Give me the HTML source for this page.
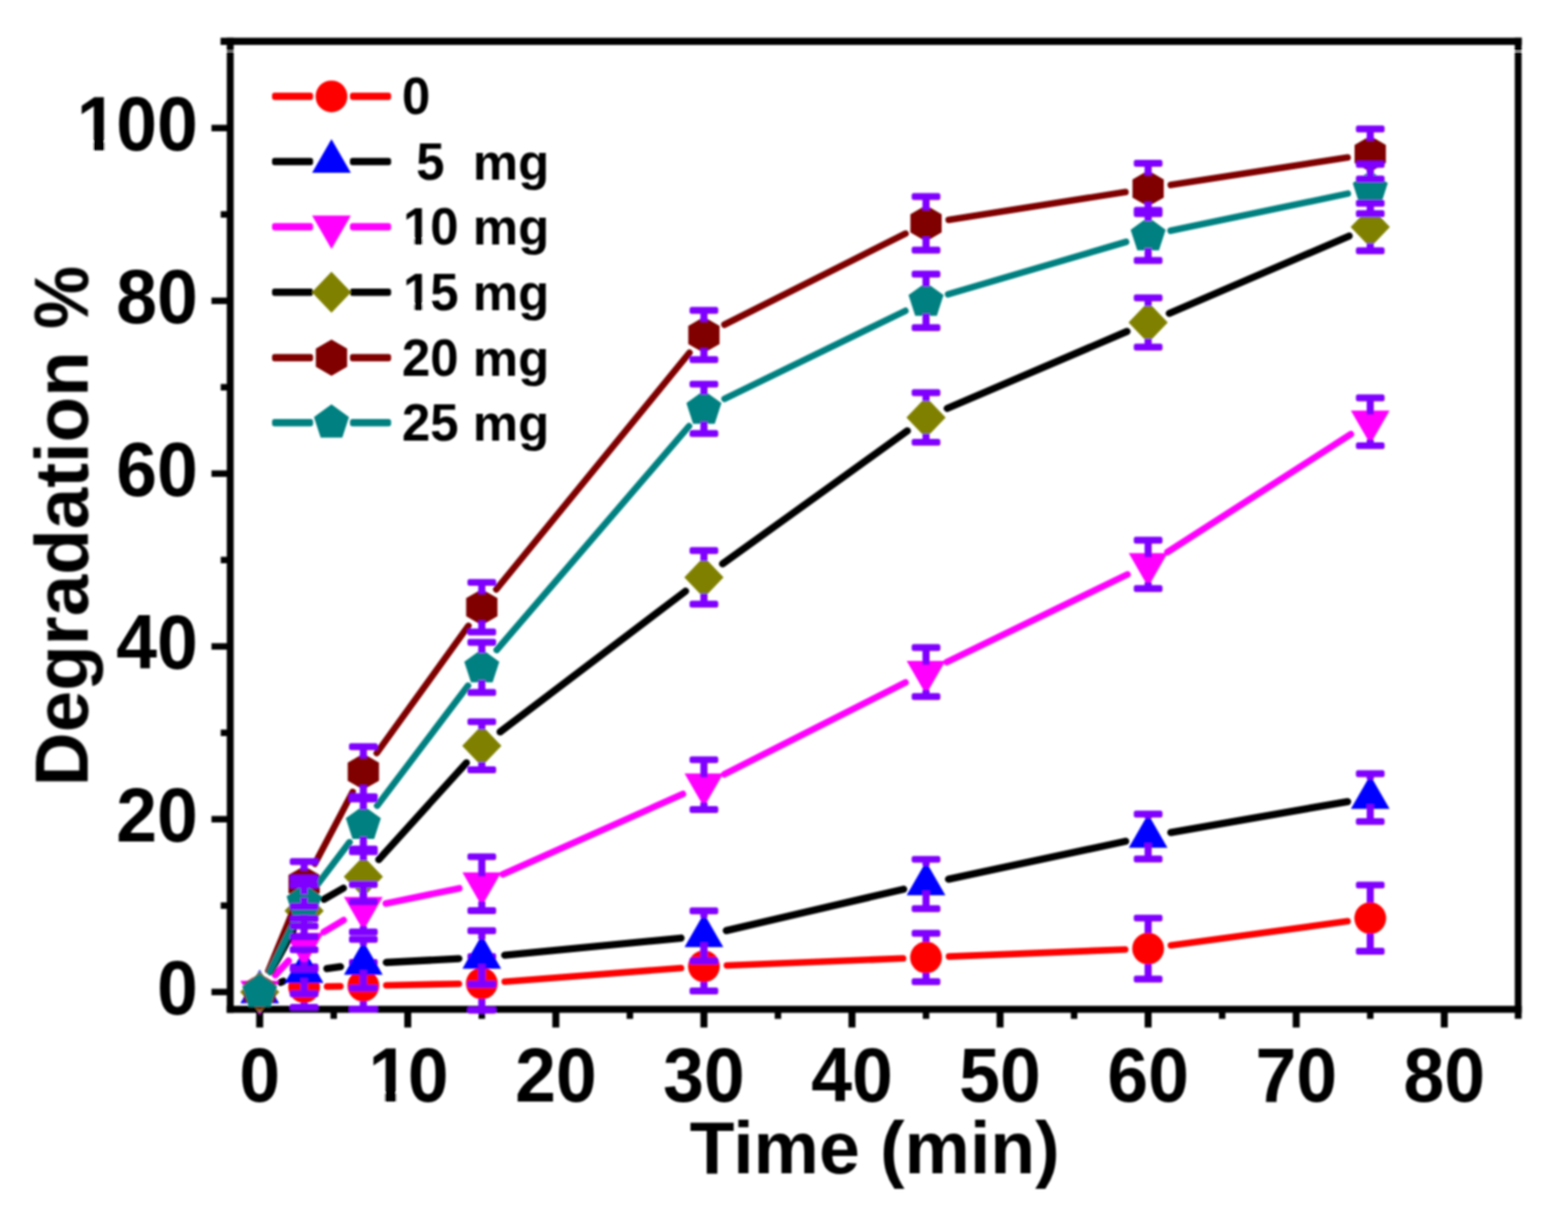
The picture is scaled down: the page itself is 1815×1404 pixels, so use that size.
<!DOCTYPE html>
<html lang="en">
<head>
<meta charset="utf-8">
<title>Degradation % vs Time (min)</title>
<style>
  html, body { margin: 0; padding: 0; background: #ffffff; }
  body { width: 1815px; height: 1404px; overflow: hidden; }
  svg { display: block; }
  text { font-kerning: normal; }
</style>
</head>
<body>
<svg width="1815" height="1404" viewBox="0 0 1815 1404">
<defs><filter id="soft" filterUnits="userSpaceOnUse" x="0" y="0" width="1815" height="1404"><feGaussianBlur stdDeviation="0.8"/></filter></defs>
<rect width="1815" height="1404" fill="#ffffff"/>
<g filter="url(#soft)">
<g id="axes" fill="#000">
<rect x="255.3" y="43.7" width="1506.1" height="8.3"/>
<rect x="262.5" y="1164.2" width="1498.9" height="8.1"/>
<rect x="262.5" y="43.7" width="8" height="1128.6"/>
<rect x="1753.4" y="43.7" width="7.9" height="1135.5"/>
<rect x="261.5" y="58.7" width="10" height="0.9" fill="#fff"/><rect x="1752.5" y="58.9" width="10" height="0.9" fill="#fff"/>
<rect x="244.8" y="1144.45" width="21.7" height="7.5"/>
<rect x="255.5" y="1044.45" width="11" height="7.5"/>
<rect x="244.8" y="944.45" width="21.7" height="7.5"/>
<rect x="255.5" y="844.45" width="11" height="7.5"/>
<rect x="244.8" y="744.45" width="21.7" height="7.5"/>
<rect x="255.5" y="644.45" width="11" height="7.5"/>
<rect x="244.8" y="544.45" width="21.7" height="7.5"/>
<rect x="255.5" y="444.45" width="11" height="7.5"/>
<rect x="244.8" y="344.45" width="21.7" height="7.5"/>
<rect x="255.5" y="244.45" width="11" height="7.5"/>
<rect x="244.8" y="144.45" width="21.7" height="7.5"/>
<rect x="296.55" y="1168.2" width="8.1" height="21.1"/>
<rect x="382.55" y="1168.2" width="7.5" height="11.1"/>
<rect x="467.95" y="1168.2" width="8.1" height="21.1"/>
<rect x="553.95" y="1168.2" width="7.5" height="11.1"/>
<rect x="639.35" y="1168.2" width="8.1" height="21.1"/>
<rect x="725.35" y="1168.2" width="7.5" height="11.1"/>
<rect x="810.75" y="1168.2" width="8.1" height="21.1"/>
<rect x="896.75" y="1168.2" width="7.5" height="11.1"/>
<rect x="982.15" y="1168.2" width="8.1" height="21.1"/>
<rect x="1068.15" y="1168.2" width="7.5" height="11.1"/>
<rect x="1153.55" y="1168.2" width="8.1" height="21.1"/>
<rect x="1239.55" y="1168.2" width="7.5" height="11.1"/>
<rect x="1324.95" y="1168.2" width="8.1" height="21.1"/>
<rect x="1410.95" y="1168.2" width="7.5" height="11.1"/>
<rect x="1496.35" y="1168.2" width="8.1" height="21.1"/>
<rect x="1582.35" y="1168.2" width="7.5" height="11.1"/>
<rect x="1667.75" y="1168.2" width="8.1" height="21.1"/>
</g>
<g id="labels" font-family="'Liberation Sans', Arial, Helvetica, sans-serif" font-weight="700" fill="#000">
<text transform="translate(181.73 1173.6) scale(1 1.05)" font-size="85">0</text>
<text transform="translate(134.45 973.6) scale(1 1.05)" font-size="85">20</text>
<text transform="translate(134.45 773.6) scale(1 1.05)" font-size="85">40</text>
<text transform="translate(134.45 573.6) scale(1 1.05)" font-size="85">60</text>
<text transform="translate(134.45 373.6) scale(1 1.05)" font-size="85">80</text>
<text transform="translate(87.18 173.6) scale(1 1.05)" font-size="85" dx="1.7 -1.7 0">100</text><rect x="92.74" y="163.75" width="15.28" height="11.35" fill="#fff"/><rect x="121.08" y="163.75" width="14.21" height="11.35" fill="#fff"/>
<text transform="translate(276.96 1274.6) scale(1 1.05)" font-size="85">0</text>
<text transform="translate(424.73 1274.6) scale(1 1.05)" font-size="85" dx="1.7 -1.7">10</text><rect x="430.28" y="1264.75" width="15.28" height="11.35" fill="#fff"/><rect x="458.63" y="1264.75" width="14.21" height="11.35" fill="#fff"/>
<text transform="translate(596.13 1274.6) scale(1 1.05)" font-size="85">20</text>
<text transform="translate(767.53 1274.6) scale(1 1.05)" font-size="85">30</text>
<text transform="translate(938.93 1274.6) scale(1 1.05)" font-size="85">40</text>
<text transform="translate(1110.33 1274.6) scale(1 1.05)" font-size="85">50</text>
<text transform="translate(1281.73 1274.6) scale(1 1.05)" font-size="85">60</text>
<text transform="translate(1453.13 1274.6) scale(1 1.05)" font-size="85">70</text>
<text transform="translate(1624.53 1274.6) scale(1 1.05)" font-size="85">80</text>
<text x="1012.4" y="1358" font-size="85" text-anchor="middle">Time (min)</text>
<g transform="translate(101.5 608.8) rotate(-90)">
<text x="-301.2" y="0" font-size="86.3">Degradation</text> 
<text transform="translate(227.9 0) scale(0.955 1.03)" font-size="86">%</text>
</g>
</g>
<g id="data">
<g id="err-0"><rect x="335.42" y="1115.15" width="33.2" height="7.9" rx="2.5" fill="#8000ff"/>
<rect x="335.42" y="1161.95" width="33.2" height="7.9" rx="2.5" fill="#8000ff"/>
<rect x="347.92" y="1119.1" width="8.2" height="46.8" fill="#8000ff"/>
<rect x="403.98" y="1110.05" width="33.2" height="7.9" rx="2.5" fill="#8000ff"/>
<rect x="403.98" y="1164.05" width="33.2" height="7.9" rx="2.5" fill="#8000ff"/>
<rect x="416.48" y="1114" width="8.2" height="54" fill="#8000ff"/>
<rect x="541.1" y="1103.25" width="33.2" height="7.9" rx="2.5" fill="#8000ff"/>
<rect x="541.1" y="1165.25" width="33.2" height="7.9" rx="2.5" fill="#8000ff"/>
<rect x="553.6" y="1107.2" width="8.2" height="62" fill="#8000ff"/>
<rect x="798.2" y="1086.05" width="33.2" height="7.9" rx="2.5" fill="#8000ff"/>
<rect x="798.2" y="1143.05" width="33.2" height="7.9" rx="2.5" fill="#8000ff"/>
<rect x="810.7" y="1090" width="8.2" height="57" fill="#8000ff"/>
<rect x="1055.3" y="1076.25" width="33.2" height="7.9" rx="2.5" fill="#8000ff"/>
<rect x="1055.3" y="1132.25" width="33.2" height="7.9" rx="2.5" fill="#8000ff"/>
<rect x="1067.8" y="1080.2" width="8.2" height="56" fill="#8000ff"/>
<rect x="1312.4" y="1058.65" width="33.2" height="7.9" rx="2.5" fill="#8000ff"/>
<rect x="1312.4" y="1129.25" width="33.2" height="7.9" rx="2.5" fill="#8000ff"/>
<rect x="1324.9" y="1062.6" width="8.2" height="70.6" fill="#8000ff"/>
<rect x="1569.5" y="1020.45" width="33.2" height="7.9" rx="2.5" fill="#8000ff"/>
<rect x="1569.5" y="1097.05" width="33.2" height="7.9" rx="2.5" fill="#8000ff"/>
<rect x="1582" y="1024.4" width="8.2" height="76.6" fill="#8000ff"/></g>
<g id="series-0">
<path d="M378.61 1141.92L393.99 1141.58M447.17 1140.46L531.11 1138.74M584.22 1136.17L788.28 1120.53M841.38 1117.44L1045.32 1109.26M1098.48 1107.14L1302.42 1098.96M1355.35 1094.29L1559.75 1066.31" stroke="#ff0000" stroke-width="7.6" stroke-linecap="round" fill="none"/>
<circle cx="300.6" cy="1148.2" r="18.4" fill="#ff0000"/>
<circle cx="352.02" cy="1142.5" r="18.4" fill="#ff0000"/>
<circle cx="420.58" cy="1141" r="18.4" fill="#ff0000"/>
<circle cx="557.7" cy="1138.2" r="18.4" fill="#ff0000"/>
<circle cx="814.8" cy="1118.5" r="18.4" fill="#ff0000"/>
<circle cx="1071.9" cy="1108.2" r="18.4" fill="#ff0000"/>
<circle cx="1329" cy="1097.9" r="18.4" fill="#ff0000"/>
<circle cx="1586.1" cy="1062.7" r="18.4" fill="#ff0000"/>
</g>
<g id="series-5">
<path d="M324.79 1137.14L327.83 1135.76M378.38 1121.12L394.22 1118.98M447.14 1114.01L531.14 1109.59M584.18 1105.63L788.32 1085.77M840.7 1077.15L1046 1029.25M1097.91 1017.64L1302.99 973.76M1355.2 963.61L1559.9 927.79" stroke="#000000" stroke-width="8.3" stroke-linecap="round" fill="none"/>
<polygon points="300.6,1122.3 323.03,1161.15 278.17,1161.15" fill="#0000ff"/>
<polygon points="352.02,1098.8 374.45,1137.65 329.59,1137.65" fill="#0000ff"/>
<polygon points="420.58,1089.5 443.01,1128.35 398.15,1128.35" fill="#0000ff"/>
<polygon points="557.7,1082.3 580.13,1121.15 535.27,1121.15" fill="#0000ff"/>
<polygon points="814.8,1057.3 837.23,1096.15 792.37,1096.15" fill="#0000ff"/>
<polygon points="1071.9,997.3 1094.33,1036.15 1049.47,1036.15" fill="#0000ff"/>
<polygon points="1329,942.3 1351.43,981.15 1306.57,981.15" fill="#0000ff"/>
<polygon points="1586.1,897.3 1608.53,936.15 1563.67,936.15" fill="#0000ff"/>
</g>
<g id="series-10">
<path d="M318.66 1128.67L333.96 1112.13M374.79 1078.85L397.81 1064.95M446.63 1045.81L531.65 1028.19M582 1011.97L790.5 919.03M838.53 896.18L1048.17 789.92M1095.84 766.3L1305.06 664.9M1351.38 638.93L1563.72 502.57" stroke="#ff00ff" stroke-width="7.6" stroke-linecap="round" fill="none"/>
<polygon points="300.6,1174.1 278.17,1135.25 323.03,1135.25" fill="#ff00ff"/>
<polygon points="352.02,1118.5 329.59,1079.65 374.45,1079.65" fill="#ff00ff"/>
<polygon points="420.58,1077.1 398.15,1038.25 443.01,1038.25" fill="#ff00ff"/>
<polygon points="557.7,1048.7 535.27,1009.85 580.13,1009.85" fill="#ff00ff"/>
<polygon points="814.8,934.1 792.37,895.25 837.23,895.25" fill="#ff00ff"/>
<polygon points="1071.9,803.8 1049.47,764.95 1094.33,764.95" fill="#ff00ff"/>
<polygon points="1329,679.2 1306.57,640.35 1351.43,640.35" fill="#ff00ff"/>
<polygon points="1586.1,514.1 1563.67,475.25 1608.53,475.25" fill="#ff00ff"/>
</g>
<g id="series-15">
<path d="M313.37 1124.86L339.25 1077.54M375.07 1040.92L397.53 1027.98M438.43 994.98L539.85 882.92M578.89 847.13L793.61 684.27M836.39 652.66L1050.31 498.74M1096.36 472.74L1304.54 383.66M1353.44 362.7L1561.66 273.2" stroke="#000000" stroke-width="8.3" stroke-linecap="round" fill="none"/>
<polygon points="300.6,1124.4 323.3,1148.2 300.6,1172 277.9,1148.2" fill="#808000"/>
<polygon points="352.02,1030.4 374.72,1054.2 352.02,1078 329.32,1054.2" fill="#808000"/>
<polygon points="420.58,990.9 443.28,1014.7 420.58,1038.5 397.88,1014.7" fill="#808000"/>
<polygon points="557.7,839.4 580.4,863.2 557.7,887 535,863.2" fill="#808000"/>
<polygon points="814.8,644.4 837.5,668.2 814.8,692 792.1,668.2" fill="#808000"/>
<polygon points="1071.9,459.4 1094.6,483.2 1071.9,507 1049.2,483.2" fill="#808000"/>
<polygon points="1329,349.4 1351.7,373.2 1329,397 1306.3,373.2" fill="#808000"/>
<polygon points="1586.1,238.9 1608.8,262.7 1586.1,286.5 1563.4,262.7" fill="#808000"/>
</g>
<g id="series-20">
<path d="M310.72 1123.6L341.9 1047.8M364.43 999.67L408.17 916.73M436.12 871.61L542.16 724.39M574.52 682.19L797.98 408.31M838.57 375.76L1048.13 270.44M1098.18 254.38L1302.72 222.32M1355.28 214.11L1559.82 182.29" stroke="#800000" stroke-width="7.6" stroke-linecap="round" fill="none"/>
<polygon points="300.6,1127.3 318.7,1137.75 318.7,1158.65 300.6,1169.1 282.5,1158.65 282.5,1137.75" fill="#800000"/>
<polygon points="352.02,1002.3 370.12,1012.75 370.12,1033.65 352.02,1044.1 333.92,1033.65 333.92,1012.75" fill="#800000"/>
<polygon points="420.58,872.3 438.68,882.75 438.68,903.65 420.58,914.1 402.48,903.65 402.48,882.75" fill="#800000"/>
<polygon points="557.7,681.9 575.8,692.35 575.8,713.25 557.7,723.7 539.6,713.25 539.6,692.35" fill="#800000"/>
<polygon points="814.8,366.8 832.9,377.25 832.9,398.15 814.8,408.6 796.7,398.15 796.7,377.25" fill="#800000"/>
<polygon points="1071.9,237.6 1090,248.05 1090,268.95 1071.9,279.4 1053.8,268.95 1053.8,248.05" fill="#800000"/>
<polygon points="1329,197.3 1347.1,207.75 1347.1,228.65 1329,239.1 1310.9,228.65 1310.9,207.75" fill="#800000"/>
<polygon points="1586.1,157.3 1604.2,167.75 1604.2,188.65 1586.1,199.1 1568,188.65 1568,167.75" fill="#800000"/>
</g>
<g id="series-25">
<path d="M312.39 1124.36L340.23 1068.04M368.08 1023L404.52 974.9M436.63 932.49L541.65 793.71M575.03 752.32L797.47 493.38M838.72 461.57L1047.98 359.83M1097.42 340.69L1303.48 280.01M1355.04 267.05L1560.06 224.15" stroke="#008080" stroke-width="7.6" stroke-linecap="round" fill="none"/>
<polygon points="300.6,1126.9 320.86,1141.62 313.12,1165.43 288.08,1165.43 280.34,1141.62" fill="#008080"/>
<polygon points="352.02,1022.9 372.28,1037.62 364.54,1061.43 339.5,1061.43 331.76,1037.62" fill="#008080"/>
<polygon points="420.58,932.4 440.84,947.12 433.1,970.93 408.06,970.93 400.32,947.12" fill="#008080"/>
<polygon points="557.7,751.2 577.96,765.92 570.22,789.73 545.18,789.73 537.44,765.92" fill="#008080"/>
<polygon points="814.8,451.9 835.06,466.62 827.32,490.43 802.28,490.43 794.54,466.62" fill="#008080"/>
<polygon points="1071.9,326.9 1092.16,341.62 1084.42,365.43 1059.38,365.43 1051.64,341.62" fill="#008080"/>
<polygon points="1329,251.2 1349.26,265.92 1341.52,289.73 1316.48,289.73 1308.74,265.92" fill="#008080"/>
<polygon points="1586.1,197.4 1606.36,212.12 1598.62,235.93 1573.58,235.93 1565.84,212.12" fill="#008080"/>
</g>
<g id="err-5"><rect x="335.42" y="1095.25" width="33.2" height="7.9" rx="2.5" fill="#8000ff"/>
<rect x="335.42" y="1146.25" width="33.2" height="7.9" rx="2.5" fill="#8000ff"/>
<rect x="347.92" y="1099.2" width="8.2" height="4.5" fill="#8000ff"/>
<rect x="347.92" y="1132.2" width="8.2" height="18" fill="#8000ff"/>
<rect x="403.98" y="1083.25" width="33.2" height="7.9" rx="2.5" fill="#8000ff"/>
<rect x="403.98" y="1139.65" width="33.2" height="7.9" rx="2.5" fill="#8000ff"/>
<rect x="416.48" y="1087.2" width="8.2" height="7.2" fill="#8000ff"/>
<rect x="416.48" y="1122.9" width="8.2" height="20.7" fill="#8000ff"/>
<rect x="541.1" y="1073.25" width="33.2" height="7.9" rx="2.5" fill="#8000ff"/>
<rect x="541.1" y="1135.25" width="33.2" height="7.9" rx="2.5" fill="#8000ff"/>
<rect x="553.6" y="1077.2" width="8.2" height="10" fill="#8000ff"/>
<rect x="553.6" y="1115.7" width="8.2" height="23.5" fill="#8000ff"/>
<rect x="798.2" y="1050.25" width="33.2" height="7.9" rx="2.5" fill="#8000ff"/>
<rect x="798.2" y="1108.25" width="33.2" height="7.9" rx="2.5" fill="#8000ff"/>
<rect x="810.7" y="1054.2" width="8.2" height="8" fill="#8000ff"/>
<rect x="810.7" y="1090.7" width="8.2" height="21.5" fill="#8000ff"/>
<rect x="1055.3" y="990.65" width="33.2" height="7.9" rx="2.5" fill="#8000ff"/>
<rect x="1055.3" y="1047.85" width="33.2" height="7.9" rx="2.5" fill="#8000ff"/>
<rect x="1067.8" y="994.6" width="8.2" height="7.6" fill="#8000ff"/>
<rect x="1067.8" y="1030.7" width="8.2" height="21.1" fill="#8000ff"/>
<rect x="1312.4" y="938.25" width="33.2" height="7.9" rx="2.5" fill="#8000ff"/>
<rect x="1312.4" y="990.25" width="33.2" height="7.9" rx="2.5" fill="#8000ff"/>
<rect x="1324.9" y="942.2" width="8.2" height="5" fill="#8000ff"/>
<rect x="1324.9" y="975.7" width="8.2" height="18.5" fill="#8000ff"/>
<rect x="1569.5" y="891.55" width="33.2" height="7.9" rx="2.5" fill="#8000ff"/>
<rect x="1569.5" y="946.95" width="33.2" height="7.9" rx="2.5" fill="#8000ff"/>
<rect x="1582" y="895.5" width="8.2" height="6.7" fill="#8000ff"/>
<rect x="1582" y="930.7" width="8.2" height="20.2" fill="#8000ff"/></g>
<g id="err-10"><rect x="335.42" y="1059.35" width="33.2" height="7.9" rx="2.5" fill="#8000ff"/>
<rect x="335.42" y="1117.95" width="33.2" height="7.9" rx="2.5" fill="#8000ff"/>
<rect x="347.92" y="1063.3" width="8.2" height="20.9" fill="#8000ff"/>
<rect x="347.92" y="1113.2" width="8.2" height="8.7" fill="#8000ff"/>
<rect x="403.98" y="1019.75" width="33.2" height="7.9" rx="2.5" fill="#8000ff"/>
<rect x="403.98" y="1074.75" width="33.2" height="7.9" rx="2.5" fill="#8000ff"/>
<rect x="416.48" y="1023.7" width="8.2" height="19.1" fill="#8000ff"/>
<rect x="416.48" y="1071.8" width="8.2" height="6.9" fill="#8000ff"/>
<rect x="541.1" y="987.65" width="33.2" height="7.9" rx="2.5" fill="#8000ff"/>
<rect x="541.1" y="1050.05" width="33.2" height="7.9" rx="2.5" fill="#8000ff"/>
<rect x="553.6" y="991.6" width="8.2" height="22.8" fill="#8000ff"/>
<rect x="553.6" y="1043.4" width="8.2" height="10.6" fill="#8000ff"/>
<rect x="798.2" y="875.45" width="33.2" height="7.9" rx="2.5" fill="#8000ff"/>
<rect x="798.2" y="933.05" width="33.2" height="7.9" rx="2.5" fill="#8000ff"/>
<rect x="810.7" y="879.4" width="8.2" height="20.4" fill="#8000ff"/>
<rect x="810.7" y="928.8" width="8.2" height="8.2" fill="#8000ff"/>
<rect x="1055.3" y="745.55" width="33.2" height="7.9" rx="2.5" fill="#8000ff"/>
<rect x="1055.3" y="802.35" width="33.2" height="7.9" rx="2.5" fill="#8000ff"/>
<rect x="1067.8" y="749.5" width="8.2" height="20" fill="#8000ff"/>
<rect x="1067.8" y="798.5" width="8.2" height="7.8" fill="#8000ff"/>
<rect x="1312.4" y="621.35" width="33.2" height="7.9" rx="2.5" fill="#8000ff"/>
<rect x="1312.4" y="677.35" width="33.2" height="7.9" rx="2.5" fill="#8000ff"/>
<rect x="1324.9" y="625.3" width="8.2" height="19.6" fill="#8000ff"/>
<rect x="1324.9" y="673.9" width="8.2" height="7.4" fill="#8000ff"/>
<rect x="1569.5" y="456.55" width="33.2" height="7.9" rx="2.5" fill="#8000ff"/>
<rect x="1569.5" y="511.95" width="33.2" height="7.9" rx="2.5" fill="#8000ff"/>
<rect x="1582" y="460.5" width="8.2" height="19.3" fill="#8000ff"/>
<rect x="1582" y="508.8" width="8.2" height="7.1" fill="#8000ff"/></g>
<g id="err-15"><rect x="335.42" y="1020.25" width="33.2" height="7.9" rx="2.5" fill="#8000ff"/>
<rect x="335.42" y="1080.25" width="33.2" height="7.9" rx="2.5" fill="#8000ff"/>
<rect x="347.92" y="1024.2" width="8.2" height="11" fill="#8000ff"/>
<rect x="347.92" y="1073.2" width="8.2" height="11" fill="#8000ff"/>
<rect x="403.98" y="981.75" width="33.2" height="7.9" rx="2.5" fill="#8000ff"/>
<rect x="403.98" y="1039.75" width="33.2" height="7.9" rx="2.5" fill="#8000ff"/>
<rect x="416.48" y="985.7" width="8.2" height="10" fill="#8000ff"/>
<rect x="416.48" y="1033.7" width="8.2" height="10" fill="#8000ff"/>
<rect x="541.1" y="831.45" width="33.2" height="7.9" rx="2.5" fill="#8000ff"/>
<rect x="541.1" y="887.05" width="33.2" height="7.9" rx="2.5" fill="#8000ff"/>
<rect x="553.6" y="835.4" width="8.2" height="8.8" fill="#8000ff"/>
<rect x="553.6" y="882.2" width="8.2" height="8.8" fill="#8000ff"/>
<rect x="798.2" y="633.25" width="33.2" height="7.9" rx="2.5" fill="#8000ff"/>
<rect x="798.2" y="695.25" width="33.2" height="7.9" rx="2.5" fill="#8000ff"/>
<rect x="810.7" y="637.2" width="8.2" height="12" fill="#8000ff"/>
<rect x="810.7" y="687.2" width="8.2" height="12" fill="#8000ff"/>
<rect x="1055.3" y="450.55" width="33.2" height="7.9" rx="2.5" fill="#8000ff"/>
<rect x="1055.3" y="507.95" width="33.2" height="7.9" rx="2.5" fill="#8000ff"/>
<rect x="1067.8" y="454.5" width="8.2" height="9.7" fill="#8000ff"/>
<rect x="1067.8" y="502.2" width="8.2" height="9.7" fill="#8000ff"/>
<rect x="1312.4" y="340.75" width="33.2" height="7.9" rx="2.5" fill="#8000ff"/>
<rect x="1312.4" y="397.75" width="33.2" height="7.9" rx="2.5" fill="#8000ff"/>
<rect x="1324.9" y="344.7" width="8.2" height="9.5" fill="#8000ff"/>
<rect x="1324.9" y="392.2" width="8.2" height="9.5" fill="#8000ff"/>
<rect x="1569.5" y="231.25" width="33.2" height="7.9" rx="2.5" fill="#8000ff"/>
<rect x="1569.5" y="286.25" width="33.2" height="7.9" rx="2.5" fill="#8000ff"/>
<rect x="1582" y="235.2" width="8.2" height="8.5" fill="#8000ff"/>
<rect x="1582" y="281.7" width="8.2" height="8.5" fill="#8000ff"/></g>
<g id="err-20"><rect x="335.42" y="993.25" width="33.2" height="7.9" rx="2.5" fill="#8000ff"/>
<rect x="335.42" y="1045.25" width="33.2" height="7.9" rx="2.5" fill="#8000ff"/>
<rect x="347.92" y="997.2" width="8.2" height="10.5" fill="#8000ff"/>
<rect x="347.92" y="1038.7" width="8.2" height="10.5" fill="#8000ff"/>
<rect x="403.98" y="860.25" width="33.2" height="7.9" rx="2.5" fill="#8000ff"/>
<rect x="403.98" y="918.25" width="33.2" height="7.9" rx="2.5" fill="#8000ff"/>
<rect x="416.48" y="864.2" width="8.2" height="13.5" fill="#8000ff"/>
<rect x="416.48" y="908.7" width="8.2" height="13.5" fill="#8000ff"/>
<rect x="541.1" y="670.15" width="33.2" height="7.9" rx="2.5" fill="#8000ff"/>
<rect x="541.1" y="727.55" width="33.2" height="7.9" rx="2.5" fill="#8000ff"/>
<rect x="553.6" y="674.1" width="8.2" height="13.2" fill="#8000ff"/>
<rect x="553.6" y="718.3" width="8.2" height="13.2" fill="#8000ff"/>
<rect x="798.2" y="355.25" width="33.2" height="7.9" rx="2.5" fill="#8000ff"/>
<rect x="798.2" y="412.25" width="33.2" height="7.9" rx="2.5" fill="#8000ff"/>
<rect x="810.7" y="359.2" width="8.2" height="13" fill="#8000ff"/>
<rect x="810.7" y="403.2" width="8.2" height="13" fill="#8000ff"/>
<rect x="1055.3" y="223.55" width="33.2" height="7.9" rx="2.5" fill="#8000ff"/>
<rect x="1055.3" y="285.55" width="33.2" height="7.9" rx="2.5" fill="#8000ff"/>
<rect x="1067.8" y="227.5" width="8.2" height="15.5" fill="#8000ff"/>
<rect x="1067.8" y="274" width="8.2" height="15.5" fill="#8000ff"/>
<rect x="1312.4" y="185.05" width="33.2" height="7.9" rx="2.5" fill="#8000ff"/>
<rect x="1312.4" y="243.45" width="33.2" height="7.9" rx="2.5" fill="#8000ff"/>
<rect x="1324.9" y="189" width="8.2" height="13.7" fill="#8000ff"/>
<rect x="1324.9" y="233.7" width="8.2" height="13.7" fill="#8000ff"/>
<rect x="1569.5" y="145.25" width="33.2" height="7.9" rx="2.5" fill="#8000ff"/>
<rect x="1569.5" y="203.25" width="33.2" height="7.9" rx="2.5" fill="#8000ff"/>
<rect x="1582" y="149.2" width="8.2" height="13.5" fill="#8000ff"/>
<rect x="1582" y="193.7" width="8.2" height="13.5" fill="#8000ff"/></g>
<g id="err-25"><rect x="335.42" y="1012.55" width="33.2" height="7.9" rx="2.5" fill="#8000ff"/>
<rect x="335.42" y="1067.95" width="33.2" height="7.9" rx="2.5" fill="#8000ff"/>
<rect x="347.92" y="1016.5" width="8.2" height="11.2" fill="#8000ff"/>
<rect x="347.92" y="1058.7" width="8.2" height="13.2" fill="#8000ff"/>
<rect x="403.98" y="920.75" width="33.2" height="7.9" rx="2.5" fill="#8000ff"/>
<rect x="403.98" y="978.75" width="33.2" height="7.9" rx="2.5" fill="#8000ff"/>
<rect x="416.48" y="924.7" width="8.2" height="12.5" fill="#8000ff"/>
<rect x="416.48" y="968.2" width="8.2" height="14.5" fill="#8000ff"/>
<rect x="541.1" y="739.55" width="33.2" height="7.9" rx="2.5" fill="#8000ff"/>
<rect x="541.1" y="797.55" width="33.2" height="7.9" rx="2.5" fill="#8000ff"/>
<rect x="553.6" y="743.5" width="8.2" height="12.5" fill="#8000ff"/>
<rect x="553.6" y="787" width="8.2" height="14.5" fill="#8000ff"/>
<rect x="798.2" y="440.65" width="33.2" height="7.9" rx="2.5" fill="#8000ff"/>
<rect x="798.2" y="497.85" width="33.2" height="7.9" rx="2.5" fill="#8000ff"/>
<rect x="810.7" y="444.6" width="8.2" height="12.1" fill="#8000ff"/>
<rect x="810.7" y="487.7" width="8.2" height="14.1" fill="#8000ff"/>
<rect x="1055.3" y="313.25" width="33.2" height="7.9" rx="2.5" fill="#8000ff"/>
<rect x="1055.3" y="375.25" width="33.2" height="7.9" rx="2.5" fill="#8000ff"/>
<rect x="1067.8" y="317.2" width="8.2" height="14.5" fill="#8000ff"/>
<rect x="1067.8" y="362.7" width="8.2" height="16.5" fill="#8000ff"/>
<rect x="1312.4" y="239.55" width="33.2" height="7.9" rx="2.5" fill="#8000ff"/>
<rect x="1312.4" y="297.55" width="33.2" height="7.9" rx="2.5" fill="#8000ff"/>
<rect x="1324.9" y="243.5" width="8.2" height="12.5" fill="#8000ff"/>
<rect x="1324.9" y="287" width="8.2" height="14.5" fill="#8000ff"/>
<rect x="1569.5" y="186.25" width="33.2" height="7.9" rx="2.5" fill="#8000ff"/>
<rect x="1569.5" y="243.25" width="33.2" height="7.9" rx="2.5" fill="#8000ff"/>
<rect x="1582" y="190.2" width="8.2" height="12" fill="#8000ff"/>
<rect x="1582" y="233.2" width="8.2" height="14" fill="#8000ff"/></g>
</g>
<g id="legend">
<rect x="314.9" y="107.35" width="47.5" height="8.5" rx="3" fill="#ff0000"/>
<rect x="405.1" y="107.35" width="47.6" height="8.5" rx="3" fill="#ff0000"/>
<circle cx="383.7" cy="111.6" r="18.4" fill="#ff0000"/>
<g font-family="'Liberation Sans', Arial, Helvetica, sans-serif" font-weight="700" fill="#000">
<text transform="translate(465.3 132.2) scale(1 1.05)" font-size="59">0</text>
</g>
<rect x="314.9" y="182.75" width="47.5" height="8.5" rx="3" fill="#000000"/>
<rect x="405.1" y="182.75" width="47.6" height="8.5" rx="3" fill="#000000"/>
<polygon points="383.7,161.1 406.13,199.95 361.27,199.95" fill="#0000ff"/>
<g font-family="'Liberation Sans', Arial, Helvetica, sans-serif" font-weight="700" fill="#000">
<text transform="translate(481.69 207.6) scale(1 1.05)" font-size="59">5</text>
 <text x="547.29" y="207.6" font-size="59">mg</text>
</g>
<rect x="314.9" y="258.15" width="47.5" height="8.5" rx="3" fill="#ff00ff"/>
<rect x="405.1" y="258.15" width="47.6" height="8.5" rx="3" fill="#ff00ff"/>
<polygon points="383.7,288.3 361.27,249.45 406.13,249.45" fill="#ff00ff"/>
<g font-family="'Liberation Sans', Arial, Helvetica, sans-serif" font-weight="700" fill="#000">
<text transform="translate(465.3 283) scale(1 1.05)" font-size="59" dx="1.18 -1.18">10</text><rect x="468.7" y="275.95" width="10.85" height="8.55" fill="#fff"/><rect x="489.05" y="275.95" width="10.11" height="8.55" fill="#fff"/>
 <text x="547.32" y="283" font-size="59">mg</text>
</g>
<rect x="314.9" y="333.95" width="47.5" height="8.5" rx="3" fill="#000000"/>
<rect x="405.1" y="333.95" width="47.6" height="8.5" rx="3" fill="#000000"/>
<polygon points="383.7,314.4 406.4,338.2 383.7,362 361,338.2" fill="#808000"/>
<g font-family="'Liberation Sans', Arial, Helvetica, sans-serif" font-weight="700" fill="#000">
<text transform="translate(465.3 358.8) scale(1 1.05)" font-size="59" dx="1.18 -1.18">15</text><rect x="468.7" y="351.75" width="10.85" height="8.55" fill="#fff"/><rect x="489.05" y="351.75" width="10.11" height="8.55" fill="#fff"/>
 <text x="547.32" y="358.8" font-size="59">mg</text>
</g>
<rect x="314.9" y="409.75" width="47.5" height="8.5" rx="3" fill="#800000"/>
<rect x="405.1" y="409.75" width="47.6" height="8.5" rx="3" fill="#800000"/>
<polygon points="383.7,393.1 401.8,403.55 401.8,424.45 383.7,434.9 365.6,424.45 365.6,403.55" fill="#800000"/>
<g font-family="'Liberation Sans', Arial, Helvetica, sans-serif" font-weight="700" fill="#000">
<text transform="translate(465.3 434.6) scale(1 1.05)" font-size="59">20</text>
 <text x="547.32" y="434.6" font-size="59">mg</text>
</g>
<rect x="314.9" y="485.05" width="47.5" height="8.5" rx="3" fill="#008080"/>
<rect x="405.1" y="485.05" width="47.6" height="8.5" rx="3" fill="#008080"/>
<polygon points="383.7,468 403.96,482.72 396.22,506.53 371.18,506.53 363.44,482.72" fill="#008080"/>
<g font-family="'Liberation Sans', Arial, Helvetica, sans-serif" font-weight="700" fill="#000">
<text transform="translate(465.3 509.9) scale(1 1.05)" font-size="59">25</text>
 <text x="547.32" y="509.9" font-size="59">mg</text>
</g>
</g>
</g>
</svg>
</body>
</html>
